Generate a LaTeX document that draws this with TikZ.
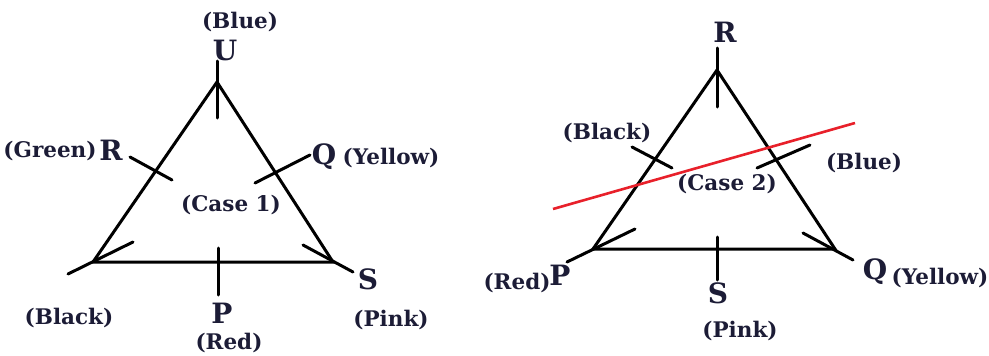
\documentclass[tikz,border=0pt]{standalone}
\usepackage{fontspec}
\setmainfont{DejaVu Serif}
\definecolor{txt}{HTML}{1C1C36}
\definecolor{cut}{HTML}{E8202A}
\begin{document}
\begin{tikzpicture}[x=1pt,y=-1pt,
  edge/.style={line width=3pt,black,line cap=round},
  cutline/.style={line width=2.6pt,cut},
  lab/.style={inner sep=0pt,text=txt,font=\fontsize{21.5}{22}\selectfont\bfseries},
  big/.style={inner sep=0pt,text=txt,font=\fontsize{28}{29}\selectfont\bfseries}]
\useasboundingbox (0,0) rectangle (989,356);
% ---------- Case 1 ----------
\coordinate (a1) at (217,82);
\coordinate (b1) at (93,262);
\coordinate (c1) at (333,262);
\draw[edge] (a1) -- (b1) -- (c1) -- cycle;
\coordinate (u1) at (217,61);  \coordinate (u2) at (217,118);
\coordinate (r1) at (130,157); \coordinate (r2) at (172,180);
\coordinate (q1) at (255,183); \coordinate (q2) at (310,155);
\coordinate (p1) at (218,248); \coordinate (p2) at (218,295);
\coordinate (k1) at (68,274);  \coordinate (k2) at (133,242);
\coordinate (s1) at (303,245); \coordinate (s2) at (353,272);
\draw[edge] (u1) -- (u2);
\draw[edge] (r1) -- (r2);
\draw[edge] (q1) -- (q2);
\draw[edge] (p1) -- (p2);
\draw[edge] (k1) -- (k2);
\draw[edge] (s1) -- (s2);
\node[lab] (blue1) at (240,22) {(Blue)};
\node[big] (U1) at (225,50) {U};
\node[lab] (green1) at (50,151) {(Green)};
\node[big] (R1) at (111,150) {R};
\node[big] (Q1) at (324,157) {Q};
\node[lab] (yellow1) at (391,158) {(Yellow)};
\node[lab] (case1) at (231,205) {(Case 1)};
\node[big] (S1) at (368,279) {S};
\node[lab] (black1) at (69,318) {(Black)};
\node[big] (P1) at (222,313) {P};
\node[lab] (red1) at (229,343) {(Red)};
\node[lab] (pink1) at (391,320) {(Pink)};
% ---------- Case 2 ----------
\coordinate (a2) at (717,70);
\coordinate (b2) at (593,249);
\coordinate (c2) at (835,249);
\draw[edge] (a2) -- (b2) -- (c2) -- cycle;
\coordinate (t1) at (717,48);  \coordinate (t2) at (717,107);
\coordinate (h1) at (632,147); \coordinate (h2) at (672,168);
\coordinate (w1) at (757,168); \coordinate (w2) at (810,145);
\coordinate (m1) at (717,237); \coordinate (m2) at (717,280);
\coordinate (v1) at (567,262); \coordinate (v2) at (635,229);
\coordinate (y1) at (803,233); \coordinate (y2) at (853,260);
\draw[edge] (t1) -- (t2);
\draw[edge] (h1) -- (h2);
\draw[edge] (w1) -- (w2);
\draw[edge] (m1) -- (m2);
\draw[edge] (v1) -- (v2);
\draw[edge] (y1) -- (y2);
\coordinate (L1) at (553,209); \coordinate (L2) at (855,123);
\draw[cutline] (L1) -- (L2);
\node[big] (R2) at (725,32) {R};
\node[lab] (black2) at (607,133) {(Black)};
\node[lab] (blue2) at (864,163) {(Blue)};
\node[lab] (case2) at (727,184) {(Case 2)};
\node[lab] (red2) at (517,283) {(Red)};
\node[big] (P2) at (560,275) {P};
\node[big] (S2) at (718,293) {S};
\node[lab] (pink2) at (740,331) {(Pink)};
\node[big] (Q2) at (875,272) {Q};
\node[lab] (yellow2) at (940,278) {(Yellow)};
\end{tikzpicture}
\end{document}
